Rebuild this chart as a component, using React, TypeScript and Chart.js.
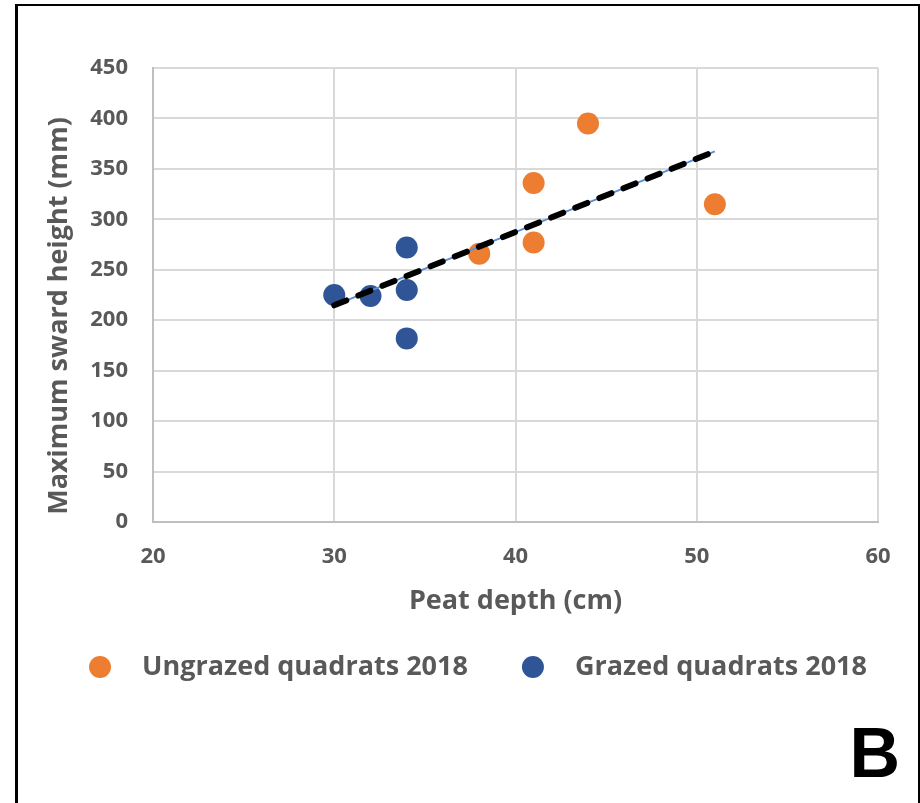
import React, { useEffect, useRef } from 'react';
import { Chart, registerables } from 'chart.js';

Chart.register(...registerables);

// ---- data ----
const ungrazedDepth = [38, 41, 41, 44, 51];
const ungrazedHeight = [266, 336, 277, 395, 315];
const grazedDepth = [30, 32, 34, 34, 34];
const grazedHeight = [225, 224, 272, 230, 182];
const seriesLabels = ['Ungrazed quadrats 2018', 'Grazed quadrats 2018'];
const seriesColors = ['#ED7D31', '#2F5597'];
const xTicks = [20, 30, 40, 50, 60];
const yTicks = [0, 50, 100, 150, 200, 250, 300, 350, 400, 450];
const xTitle = 'Peat depth (cm)';
const yTitle = 'Maximum sward height (mm)';
const panelLabel = 'B';

const TEXT = '#595959';
const FONT = '"Open Sans", Lato, sans-serif';

function linearFit(xs: number[], ys: number[]) {
  const n = xs.length;
  const mx = xs.reduce((a, b) => a + b, 0) / n;
  const my = ys.reduce((a, b) => a + b, 0) / n;
  let sxy = 0;
  let sxx = 0;
  for (let i = 0; i < n; i++) {
    sxy += (xs[i] - mx) * (ys[i] - my);
    sxx += (xs[i] - mx) * (xs[i] - mx);
  }
  const slope = sxy / sxx;
  return { slope, intercept: my - slope * mx };
}

const overlayPlugin = {
  id: 'overlay',
  afterDraw(chart: any) {
    const ctx = chart.ctx as CanvasRenderingContext2D;
    const area = chart.chartArea;

    // y axis title (rotated, reads bottom to top)
    ctx.save();
    ctx.font = `bold 27px ${FONT}`;
    ctx.fillStyle = TEXT;
    ctx.textAlign = 'center';
    ctx.textBaseline = 'alphabetic';
    const cy = area.top + (area.bottom - area.top) / 2 + 21;
    ctx.setTransform(0, -1, 1, 0, 67, cy);
    ctx.fillText(yTitle, 0, 0);
    ctx.restore();

    // legend
    ctx.save();
    ctx.font = `bold 27px ${FONT}`;
    ctx.textBaseline = 'middle';
    ctx.textAlign = 'left';
    const items = chart.data.datasets.filter((d: any) => d.inLegend);
    const r = 11;
    const gapText = 31;
    const gapItems = 54;
    const widths = items.map((d: any) => ctx.measureText(d.label).width);
    let total = 0;
    widths.forEach((w: number, i: number) => {
      total += 2 * r + gapText + w + (i < widths.length - 1 ? gapItems : 0);
    });
    let x = 478 - total / 2;
    const y = 667;
    items.forEach((d: any, i: number) => {
      ctx.fillStyle = d.backgroundColor;
      ctx.beginPath();
      ctx.arc(x + r, y, r, 0, Math.PI * 2);
      ctx.fill();
      ctx.fillStyle = TEXT;
      ctx.fillText(d.label, x + 2 * r + gapText, y);
      x += 2 * r + gapText + widths[i] + gapItems;
    });
    ctx.restore();

    // panel label
    ctx.save();
    ctx.font = 'bold 70px "Liberation Sans", Arial, sans-serif';
    ctx.fillStyle = '#000000';
    ctx.textAlign = 'right';
    ctx.textBaseline = 'alphabetic';
    ctx.fillText(panelLabel, 900, 777);
    ctx.restore();
  },
};

export default function App() {
  const ref = useRef<HTMLCanvasElement | null>(null);

  useEffect(() => {
    if (!ref.current) return;
    const allX = [...ungrazedDepth, ...grazedDepth];
    const allY = [...ungrazedHeight, ...grazedHeight];
    const fit = linearFit(allX, allY);
    const x0 = Math.min(...allX);
    const x1 = Math.max(...allX);
    const trend = [
      { x: x0, y: fit.intercept + fit.slope * x0 },
      { x: x1, y: fit.intercept + fit.slope * x1 },
    ];

    const chart = new Chart(ref.current, {
      type: 'scatter',
      data: {
        datasets: [
          {
            type: 'line',
            label: 'trend',
            data: trend,
            borderColor: '#000000',
            borderWidth: 6,
            borderDash: [13, 13],
            borderCapStyle: 'round',
            pointRadius: 0,
            fill: false,
            order: 0,
          } as any,
          {
            type: 'line',
            label: 'trend-under',
            data: trend,
            borderColor: '#5B8FD6',
            borderWidth: 2,
            pointRadius: 0,
            fill: false,
            order: 1,
          } as any,
          {
            label: seriesLabels[0],
            data: ungrazedDepth.map((v, i) => ({ x: v, y: ungrazedHeight[i] })),
            backgroundColor: seriesColors[0],
            borderWidth: 0,
            pointRadius: 11,
            inLegend: true,
            order: 2,
          } as any,
          {
            label: seriesLabels[1],
            data: grazedDepth.map((v, i) => ({ x: v, y: grazedHeight[i] })),
            backgroundColor: seriesColors[1],
            borderWidth: 0,
            pointRadius: 11,
            inLegend: true,
            order: 3,
          } as any,
        ],
      },
      options: {
        animation: false,
        responsive: false,
        layout: { padding: { left: 0, right: 42, top: 68, bottom: 0 } },
        plugins: {
          legend: { display: false },
          tooltip: { enabled: false },
        },
        scales: {
          x: {
            type: 'linear',
            min: xTicks[0],
            max: xTicks[xTicks.length - 1],
            afterBuildTicks: (s: any) => {
              s.ticks = xTicks.map((v) => ({ value: v }));
            },
            afterFit: (s: any) => {
              s.height = 803 - 522;
            },
            grid: { color: '#D9D9D9', lineWidth: 2, drawTicks: false },
            border: { display: true, color: '#BFBFBF', width: 2 },
            ticks: {
              padding: 22,
              color: TEXT,
              font: { family: FONT, size: 22, weight: 'bold' },
            },
            title: {
              display: true,
              text: xTitle,
              color: TEXT,
              font: { family: FONT, size: 27, weight: 'bold' },
              padding: { top: 0, bottom: 185 },
            },
          },
          y: {
            type: 'linear',
            min: yTicks[0],
            max: yTicks[yTicks.length - 1],
            afterBuildTicks: (s: any) => {
              s.ticks = yTicks.map((v) => ({ value: v }));
            },
            afterFit: (s: any) => {
              s.width = 153;
            },
            grid: { color: '#D9D9D9', lineWidth: 2, drawTicks: false },
            border: { display: true, color: '#BFBFBF', width: 2 },
            ticks: {
              padding: 25,
              color: TEXT,
              font: { family: FONT, size: 22, weight: 'bold' },
            },
          },
        },
      },
      plugins: [overlayPlugin],
    });
    return () => chart.destroy();
  }, []);

  return (
    <div
      style={{
        position: 'fixed',
        left: 0,
        top: 0,
        width: 920,
        height: 803,
        overflow: 'hidden',
        background: '#ffffff',
      }}
    >
      <canvas ref={ref} width={920} height={803} style={{ position: 'absolute', left: 0, top: 0 }} />
      <div
        style={{
          position: 'absolute',
          left: 15,
          top: 4,
          width: 900,
          height: 900,
          borderLeft: '3px solid #000',
          borderTop: '2px solid #000',
          borderRight: '2px solid #000',
          pointerEvents: 'none',
        }}
      />
    </div>
  );
}
